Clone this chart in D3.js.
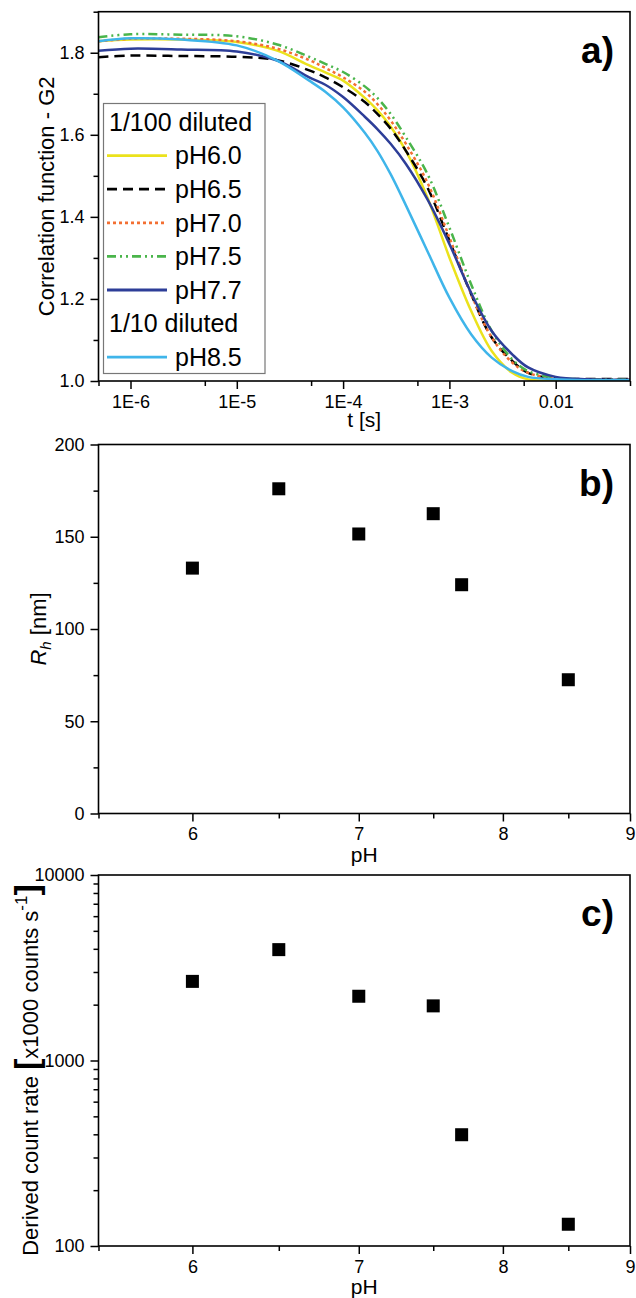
<!DOCTYPE html>
<html>
<head>
<meta charset="utf-8">
<script src="https://cdn.jsdelivr.net/npm/d3@7"></script>
<style>
  body { margin: 0; background: #fff; }
  svg text { font-family: "Liberation Sans", Arial, sans-serif; fill: #000; }
</style>
</head>
<body>
<svg id="chart" width="636" height="1298"></svg>
<script>
// ---- data ----

// panel a: correlation functions, lag time grid [s]
const tGrid = [5e-7, 1e-6, 3e-6, 1e-5, 2.4e-5, 4.8e-5, 6.8e-5, 1e-4, 1.6e-4, 2.1e-4, 2.8e-4,
               3.9e-4, 6.2e-4, 1e-3, 1.6e-3, 2.5e-3, 3.9e-3, 5.5e-3, 1e-2, 2e-2, 5e-2];

const g2_pH60 = [1.828, 1.832, 1.832, 1.826, 1.805, 1.769, 1.752, 1.732, 1.690, 1.660, 1.620,
                 1.561, 1.448, 1.301, 1.171, 1.073, 1.020, 1.004, 1.000, 1.000, 1.000];
const g2_pH65 = [1.789, 1.793, 1.792, 1.790, 1.782, 1.757, 1.740, 1.716, 1.680, 1.651, 1.615,
                 1.561, 1.472, 1.342, 1.212, 1.106, 1.049, 1.020, 1.006, 1.005, 1.005];
const g2_pH70 = [1.828, 1.834, 1.834, 1.828, 1.810, 1.782, 1.763, 1.740, 1.705, 1.675, 1.635,
                 1.578, 1.484, 1.350, 1.212, 1.106, 1.045, 1.020, 1.006, 1.003, 1.003];
const g2_pH75 = [1.838, 1.845, 1.844, 1.840, 1.820, 1.790, 1.773, 1.753, 1.718, 1.690, 1.651,
                 1.594, 1.505, 1.374, 1.236, 1.122, 1.053, 1.024, 1.008, 1.004, 1.004];
const g2_pH77 = [1.805, 1.810, 1.808, 1.803, 1.781, 1.740, 1.722, 1.692, 1.644, 1.614, 1.578,
                 1.529, 1.443, 1.334, 1.215, 1.122, 1.065, 1.033, 1.010, 1.004, 1.003];
const g2_pH85 = [1.828, 1.835, 1.832, 1.818, 1.781, 1.732, 1.705, 1.667, 1.605, 1.561, 1.504,
                 1.428, 1.317, 1.203, 1.114, 1.057, 1.024, 1.010, 1.004, 1.002, 1.002];

const seriesLabels = ["pH6.0", "pH6.5", "pH7.0", "pH7.5", "pH7.7", "pH8.5"];
const seriesValues = [g2_pH60, g2_pH65, g2_pH70, g2_pH75, g2_pH77, g2_pH85];
const seriesGroup  = ["1/100 diluted", "1/100 diluted", "1/100 diluted", "1/100 diluted", "1/100 diluted", "1/10 diluted"];

const tTicks = [1e-6, 1e-5, 1e-4, 1e-3, 1e-2];
const tTickLabels = ["1E-6", "1E-5", "1E-4", "1E-3", "0.01"];
const tMinorTicks = [5e-7, 5e-6, 5e-5, 5e-4, 5e-3, 5e-2];
const g2Ticks = [1.0, 1.2, 1.4, 1.6, 1.8];
const g2MinorTicks = [1.1, 1.3, 1.5, 1.7, 1.9];

// panels b and c
const pH = [6.0, 6.5, 7.0, 7.5, 7.7, 8.5];
const rh = [133, 176, 151.5, 162.5, 124, 72.5];
const countRate = [2670, 3960, 2220, 1970, 398, 131];

const pHTicks = [6, 7, 8, 9];
const pHMinorTicks = [5.5, 6.5, 7.5, 8.5];
const rhTicks = [0, 50, 100, 150, 200];
const rhMinorTicks = [25, 75, 125, 175];
const rateTicks = [100, 1000, 10000];

// ---- styles ----
const lineStyles = [
    { color: "#ebe21c", dash: null },
    { color: "#000000", dash: "10,6" },
    { color: "#f36f32", dash: "3,3" },
    { color: "#4ab54b", dash: "9,4,2,4,2,4" },
    { color: "#2d3e98", dash: null },
    { color: "#3fb5ea", dash: null }
];

const svg = d3.select("#chart");
const left = 98.5, right = 630;
const panels = {
    a: { top: 11.7, bottom: 381 },
    b: { top: 444.5, bottom: 813.5 },
    c: { top: 875, bottom: 1246 }
};

function drawFrame(p) {
    svg.append("rect")
        .attr("x", left).attr("y", p.top)
        .attr("width", right - left).attr("height", p.bottom - p.top)
        .attr("fill", "none").attr("stroke", "#000").attr("stroke-width", 1.6);
}

function styleAxis(g) {
    g.select(".domain").remove();
    g.selectAll(".tick line").attr("stroke", "#000").attr("stroke-width", 1.5);
    g.selectAll(".tick text").attr("font-size", 18);
}

function bottomAxis(p, x, major, labels, minor) {
    const g = svg.append("g").attr("transform", `translate(0,${p.bottom})`);
    g.call(d3.axisBottom(x).tickValues(major).tickSize(8).tickPadding(6)
        .tickFormat((d, i) => labels[i]));
    styleAxis(g);
    const gm = svg.append("g").attr("transform", `translate(0,${p.bottom})`);
    gm.call(d3.axisBottom(x).tickValues(minor).tickSize(5).tickFormat(""));
    styleAxis(gm);
}

function leftAxis(y, major, labels, minor) {
    const g = svg.append("g").attr("transform", `translate(${left},0)`);
    g.call(d3.axisLeft(y).tickValues(major).tickSize(8).tickPadding(6)
        .tickFormat((d, i) => labels[i]));
    styleAxis(g);
    const gm = svg.append("g").attr("transform", `translate(${left},0)`);
    gm.call(d3.axisLeft(y).tickValues(minor).tickSize(5).tickFormat(""));
    styleAxis(gm);
}

function panelLabel(p, txt) {
    svg.append("text")
        .attr("x", 614).attr("y", p.top + 51)
        .attr("text-anchor", "end")
        .attr("font-size", 37).attr("font-weight", "bold")
        .text(txt);
}

// ---------- panel a ----------
const pa = panels.a;
const xT = d3.scaleLog().domain([5e-7, 5e-2]).range([left, right]);
const yG = d3.scaleLinear().domain([1.0, 1.9]).range([pa.bottom, pa.top]);

svg.append("clipPath").attr("id", "clipA")
    .append("rect").attr("x", left).attr("y", pa.top)
    .attr("width", right - left).attr("height", pa.bottom - pa.top);

const line = d3.line()
    .x(d => xT(d[0]))
    .y(d => yG(d[1]))
    .curve(d3.curveCatmullRom.alpha(0.5));

const curves = svg.append("g").attr("clip-path", "url(#clipA)");
seriesValues.forEach((vals, i) => {
    const pts = tGrid.map((t, j) => [t, vals[j]]);
    curves.append("path")
        .datum(pts)
        .attr("d", line)
        .attr("fill", "none")
        .attr("stroke", lineStyles[i].color)
        .attr("stroke-width", 2.5)
        .attr("stroke-dasharray", lineStyles[i].dash);
});

bottomAxis(pa, xT, tTicks, tTickLabels, tMinorTicks);
leftAxis(yG, g2Ticks, g2Ticks.map(d => d.toFixed(1)), g2MinorTicks);
drawFrame(pa);
panelLabel(pa, "a)");

svg.append("text")
    .attr("x", (left + right) / 2).attr("y", 427)
    .attr("text-anchor", "middle").attr("font-size", 21)
    .text("t [s]");

svg.append("text")
    .attr("transform", `translate(54,${(pa.top + pa.bottom) / 2}) rotate(-90)`)
    .attr("text-anchor", "middle").attr("font-size", 22)
    .text("Correlation function - G2");

// legend
const legend = { x: 103.5, y: 103.5, w: 161.5, h: 270, row: 33.6, first: 122 };
const lg = svg.append("g");
lg.append("rect")
    .attr("x", legend.x).attr("y", legend.y)
    .attr("width", legend.w).attr("height", legend.h)
    .attr("fill", "#fff").attr("stroke", "#777").attr("stroke-width", 1.2);

let row = 0;
let lastGroup = null;
seriesLabels.forEach((lab, i) => {
    if (seriesGroup[i] !== lastGroup) {
        lg.append("text")
            .attr("x", 109).attr("y", legend.first + row * legend.row)
            .attr("dy", "0.35em").attr("font-size", 25)
            .text(seriesGroup[i]);
        lastGroup = seriesGroup[i];
        row++;
    }
    const cy = legend.first + row * legend.row;
    lg.append("line")
        .attr("x1", 107).attr("x2", 167).attr("y1", cy).attr("y2", cy)
        .attr("stroke", lineStyles[i].color).attr("stroke-width", 2.8)
        .attr("stroke-dasharray", lineStyles[i].dash);
    lg.append("text")
        .attr("x", 175).attr("y", cy)
        .attr("dy", "0.35em").attr("font-size", 25)
        .text(lab);
    row++;
});

// ---------- panel b ----------
const pb = panels.b;
const xB = d3.scaleLog().domain([5.5, 9]).range([left, right]);
const yR = d3.scaleLinear().domain([0, 200]).range([pb.bottom, pb.top]);
const sq = 13;

svg.append("g").selectAll("rect")
    .data(pH.map((p, i) => [p, rh[i]]))
    .join("rect")
    .attr("x", d => xB(d[0]) - sq / 2)
    .attr("y", d => yR(d[1]) - sq / 2)
    .attr("width", sq).attr("height", sq)
    .attr("fill", "#000");

bottomAxis(pb, xB, pHTicks, pHTicks.map(String), pHMinorTicks);
leftAxis(yR, rhTicks, rhTicks.map(String), rhMinorTicks);
drawFrame(pb);
panelLabel(pb, "b)");

svg.append("text")
    .attr("x", (left + right) / 2).attr("y", 862)
    .attr("text-anchor", "middle").attr("font-size", 21)
    .text("pH");

const rhLabel = svg.append("text")
    .attr("transform", `translate(46,${(pb.top + pb.bottom) / 2}) rotate(-90)`)
    .attr("text-anchor", "middle").attr("font-size", 22);
rhLabel.append("tspan").attr("font-style", "italic").text("R");
rhLabel.append("tspan").attr("font-style", "italic").attr("font-size", 15).attr("dy", 5).text("h");
rhLabel.append("tspan").attr("dy", -5).text(" [nm]");

// ---------- panel c ----------
const pc = panels.c;
const yC = d3.scaleLog().domain([100, 10000]).range([pc.bottom, pc.top]);
const rateMinor = [];
[100, 1000].forEach(dec => { for (let k = 2; k <= 9; k++) rateMinor.push(dec * k); });

svg.append("g").selectAll("rect")
    .data(pH.map((p, i) => [p, countRate[i]]))
    .join("rect")
    .attr("x", d => xB(d[0]) - sq / 2)
    .attr("y", d => yC(d[1]) - sq / 2)
    .attr("width", sq).attr("height", sq)
    .attr("fill", "#000");

bottomAxis(pc, xB, pHTicks, pHTicks.map(String), pHMinorTicks);
leftAxis(yC, rateTicks, rateTicks.map(String), rateMinor);
drawFrame(pc);
panelLabel(pc, "c)");

svg.append("text")
    .attr("x", (left + right) / 2).attr("y", 1294)
    .attr("text-anchor", "middle").attr("font-size", 21)
    .text("pH");

const rateLabel = svg.append("text")
    .attr("transform", "translate(38,1070) rotate(-90)")
    .attr("text-anchor", "middle").attr("font-size", 22);
rateLabel.append("tspan").text("Derived count rate ");
rateLabel.append("tspan").attr("font-size", 34).attr("font-weight", "bold").text("[");
rateLabel.append("tspan").text("x1000 counts s");
rateLabel.append("tspan").attr("font-size", 17).attr("dy", -11).text("-1");
rateLabel.append("tspan").attr("font-size", 34).attr("font-weight", "bold").attr("dy", 11).text("]");
</script>
</body>
</html>
